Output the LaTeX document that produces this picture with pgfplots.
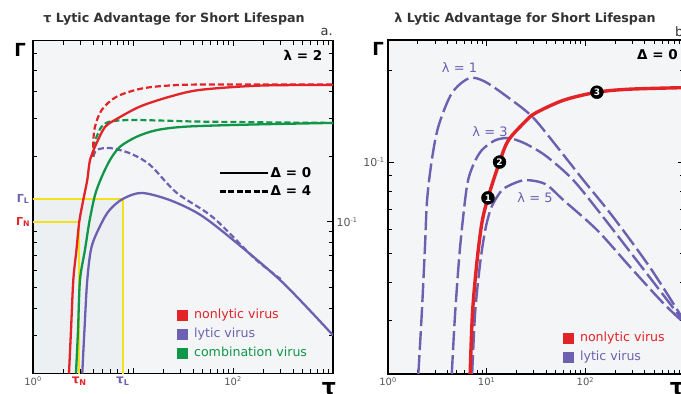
\documentclass[border=0pt]{standalone}
\usepackage{pgfplots}
\pgfplotsset{compat=1.18}
\usepackage{fontspec}
\setmainfont{DejaVu Sans}
\definecolor{nlred}{HTML}{E22328}
\definecolor{lypur}{HTML}{6E60B0}
\definecolor{cgreen}{HTML}{109648}
\definecolor{yel}{HTML}{F2E21E}
\definecolor{bgcol}{HTML}{F4F5F7}
\definecolor{tint}{HTML}{EDF0F3}
\definecolor{tickgray}{HTML}{555555}
\definecolor{titlegray}{HTML}{333333}
\newcommand{\tp}[2]{#1\textsuperscript{\fontsize{6.5}{6.5}\selectfont #2}}

\pgfplotstableread{
x y
2.29 0.02
2.40 0.0318
2.53 0.054
2.72 0.0743
2.90 0.100
3.18 0.126
3.49 0.156
3.72 0.193
4.33 0.231
5.25 0.274
6.6 0.295
11.7 0.34
23.4 0.378
46.8 0.406
186 0.425
1000 0.428
}\aredsolid
\pgfplotstableread{
x y
4.0 0.20
4.02 0.239
4.17 0.275
4.86 0.328
6.87 0.378
12.6 0.413
29.5 0.428
100 0.43
1000 0.43
}\areddash
\pgfplotstableread{
x y
2.69 0.02
2.82 0.0318
2.95 0.054
3.31 0.0743
3.66 0.100
4.17 0.133
4.86 0.161
5.89 0.193
7.41 0.222
10.9 0.247
17.3 0.265
34.4 0.275
148 0.281
1000 0.286
}\agreensolid
\pgfplotstableread{
x y
4.0 0.20
4.07 0.226
4.33 0.247
4.86 0.275
5.89 0.290
9.33 0.295
20 0.293
46.8 0.290
372 0.287
1000 0.286
}\agreendash
\pgfplotstableread{
x y
3.11 0.02
3.27 0.0318
3.49 0.054
3.86 0.077
4.86 0.099
5.89 0.114
7.9 0.1276
12.2 0.136
23.4 0.126
46.8 0.108
100 0.0826
316 0.0524
1000 0.0300
}\apursolid
\pgfplotstableread{
x y
4.0 0.20
4.37 0.215
5.89 0.219
9.33 0.207
14.8 0.183
27.4 0.136
63 0.105
158 0.069
234 0.0594
300 0.0545
}\apurdash

\pgfplotstableread{
x y
6.8 0.02
7.18 0.0317
7.94 0.0463
8.93 0.0628
10.3 0.0762
13.5 0.100
16.6 0.118
24.6 0.136
31.1 0.145
60.3 0.160
131 0.170
286 0.174
1000 0.176
}\bred
\pgfplotstableread{
x y
2.03 0.02
2.2 0.0317
2.37 0.0525
2.49 0.075
2.78 0.1015
3.24 0.131
4.43 0.1686
6.64 0.189
9.66 0.184
18.0 0.160
29.7 0.140
53.2 0.111
95.5 0.0872
192 0.0658
457 0.0447
1000 0.0300
}\blamone
\pgfplotstableread{
x y
4.43 0.02
4.79 0.0317
5.38 0.0525
6.3 0.0829
7.3 0.0977
8.93 0.1095
12.2 0.118
16.5 0.120
21.9 0.117
28.8 0.112
41.1 0.104
75.5 0.0872
152 0.0658
361 0.0457
1000 0.0297
}\blamthree
\pgfplotstableread{
x y
7.13 0.02
7.64 0.0318
8.59 0.0464
9.66 0.0596
10.9 0.0695
12.2 0.075
14.3 0.0808
17.3 0.084
24.6 0.0872
39.3 0.0846
59.8 0.075
132 0.0596
286 0.045
619 0.0342
1000 0.0295
}\blamfive
\pgfplotstableread{
x y lab
10.3 0.0762 1
13.5 0.100 2
131 0.170 3
}\bmarks

\begin{document}
\begin{tikzpicture}
\useasboundingbox (0pt,0pt) rectangle (681pt,394pt);

% ---------------- left panel: background layer ----------------
\begin{axis}[scale only axis, xmode=log, ymode=log, xmin=1, xmax=1000,
  at={(33pt,20.5pt)}, anchor=south west, width=300pt, height=333pt,
  ymin=0.02, ymax=0.686, hide axis]
\addplot[fill=bgcol, draw=none] coordinates {(1,0.02) (1,0.686) (1000,0.686) (1000,0.02) (1,0.02)};
\addplot[fill=tint, draw=none] coordinates {(1,0.02) (1,0.1276) (7.9,0.1276) (7.9,0.02) (1,0.02)};
\end{axis}

% ---------------- left panel ----------------
\begin{axis}[scale only axis, xmode=log, ymode=log, xmin=1, xmax=1000,
  at={(33pt,20.5pt)}, anchor=south west, width=300pt, height=333pt,
  ymin=0.02, ymax=0.686,
  axis line style={line width=1.5pt},
  tick align=inside,
  major tick length=6pt, minor tick length=4.5pt,
  tick style={black, line width=1pt},
  tick label style={font=\fontsize{10}{11}\selectfont, text=tickgray},
  xtick={1,10,100,1000}, xticklabels={\tp{10}{0},,\tp{10}{2},},
  minor xtick={2,3,4,5,6,7,8,9,20,30,40,50,60,70,80,90,200,300,400,500,600,700,800,900},
  ytick={0.1}, yticklabels={\tp{10}{-1}}, yticklabel pos=right,
  yticklabel style={font=\fontsize{11}{11}\selectfont},
  minor ytick={0.02,0.03,0.04,0.05,0.06,0.07,0.08,0.09,0.2,0.3,0.4,0.5,0.6},
  extra x ticks={2.9,7.9},
  extra x tick labels={{\textcolor{nlred}{\bfseries τ\textsubscript{N}}},{\textcolor{lypur}{\bfseries τ\textsubscript{L}}}},
  extra x tick style={major tick length=0pt, tick label style={font=\fontsize{12}{12}\selectfont}},
  legend cell align=left,
  legend image code/.code={\fill[#1] (0pt,-5pt) rectangle (10pt,5pt); \path (14.5pt,0pt);},
  legend style={at={(rel axis cs:0.48,0.1997)}, anchor=north west, draw=none, fill=none,
    font=\fontsize{12.6}{13}\selectfont, row sep=4pt, inner sep=0pt},
]
\addlegendimage{nlred}\addlegendentry{\textcolor{nlred}{nonlytic virus}}
\addlegendimage{lypur}\addlegendentry{\textcolor{lypur}{lytic virus}}
\addlegendimage{cgreen}\addlegendentry{\textcolor{cgreen}{combination virus}}
\addplot[yel, line width=1.8pt, forget plot] coordinates {(1,0.1276) (7.9,0.1276) (7.9,0.02)};
\addplot[yel, line width=1.8pt, forget plot] coordinates {(1,0.1) (2.9,0.1) (2.9,0.02)};
\addplot[lypur, line width=2.2pt, dash pattern=on 6pt off 3pt, smooth, tension=0.5, forget plot] table {\apurdash};
\addplot[cgreen, line width=2.2pt, dash pattern=on 6pt off 3pt, smooth, tension=0.5, forget plot] table {\agreendash};
\addplot[nlred, line width=2.2pt, dash pattern=on 6pt off 3pt, smooth, tension=0.5, forget plot] table {\areddash};
\addplot[lypur, line width=2.3pt, smooth, tension=0.5, forget plot] table {\apursolid};
\addplot[cgreen, line width=2.3pt, smooth, tension=0.5, forget plot] table {\agreensolid};
\addplot[nlred, line width=2.3pt, smooth, tension=0.5, forget plot] table {\aredsolid};
\end{axis}

% Delta legend (overlay)
\begin{axis}[scale only axis, at={(33pt,20.5pt)}, anchor=south west, width=300pt, height=333pt,
  hide axis, xmin=0, xmax=1, ymin=0, ymax=1, legend cell align=left,
  legend image code/.code={\draw[#1] (0pt,0pt) -- (48pt,0pt);},
  legend style={at={(rel axis cs:0.617,0.626)}, anchor=north west, draw=none, fill=none,
    font=\bfseries\fontsize{13.5}{14}\selectfont, row sep=3pt, inner sep=0pt},
]
\addlegendimage{black, line width=2.4pt}
\addlegendentry{Δ = 0}
\addlegendimage{black, line width=2.4pt, dash pattern=on 6pt off 2.5pt}
\addlegendentry{Δ = 4}
\end{axis}

% ---------------- right panel: background layer ----------------
\begin{axis}[scale only axis, xmode=log, ymode=log, xmin=1, xmax=1000,
  at={(388pt,20pt)}, anchor=south west, width=296pt, height=334pt,
  ymin=0.02, ymax=0.2527, hide axis]
\addplot[fill=bgcol, draw=none] coordinates {(1,0.02) (1,0.2527) (1000,0.2527) (1000,0.02) (1,0.02)};
\end{axis}

% ---------------- right panel ----------------
\begin{axis}[scale only axis, xmode=log, ymode=log, xmin=1, xmax=1000,
  at={(388pt,20pt)}, anchor=south west, width=296pt, height=334pt,
  ymin=0.02, ymax=0.2527,
  axis line style={line width=1.5pt},
  tick align=inside,
  major tick length=6pt, minor tick length=4.5pt,
  tick style={black, line width=1pt},
  tick label style={font=\fontsize{10}{11}\selectfont, text=tickgray},
  xtick={1,10,100,1000}, xticklabels={\tp{10}{0},\tp{10}{1},\tp{10}{2},},
  minor xtick={2,3,4,5,6,7,8,9,20,30,40,50,60,70,80,90,200,300,400,500,600,700,800,900},
  ytick={0.1}, yticklabels={\tp{10}{-1}},
  yticklabel style={font=\fontsize{11}{11}\selectfont},
  minor ytick={0.02,0.03,0.04,0.05,0.06,0.07,0.08,0.09,0.2},
  legend cell align=left,
  legend image code/.code={\fill[#1] (0pt,-5pt) rectangle (10pt,5pt); \path (14.5pt,0pt);},
  legend style={at={(rel axis cs:0.591,0.1317)}, anchor=north west, draw=none, fill=none,
    font=\fontsize{12.6}{13}\selectfont, row sep=4pt, inner sep=0pt},
]
\addlegendimage{nlred}\addlegendentry{\textcolor{nlred}{nonlytic virus}}
\addlegendimage{lypur}\addlegendentry{\textcolor{lypur}{lytic virus}}
\addplot[lypur, line width=2.4pt, dash pattern=on 19pt off 5pt, smooth, tension=0.5, forget plot] table {\blamone};
\addplot[lypur, line width=2.4pt, dash pattern=on 19pt off 5pt, smooth, tension=0.5, forget plot] table {\blamthree};
\addplot[lypur, line width=2.4pt, dash pattern=on 19pt off 5pt, smooth, tension=0.5, forget plot] table {\blamfive};
\addplot[nlred, line width=3.4pt, smooth, tension=0.5, forget plot] table {\bred};
\addplot[only marks, mark=*, mark size=6.5pt, mark options={fill=black, draw=black},
  point meta=explicit symbolic, nodes near coords,
  nodes near coords style={anchor=center, text=white, font=\bfseries\fontsize{9}{9}\selectfont, inner sep=0pt},
  forget plot] table[meta=lab] {\bmarks};
\end{axis}

% ---------------- texts ----------------
\node[font=\bfseries\fontsize{12.7}{13}\selectfont, text=titlegray] at (174pt,375pt) {τ Lytic Advantage for Short Lifespan};
\node[font=\bfseries\fontsize{12.7}{13}\selectfont, text=titlegray] at (525pt,375pt) {λ Lytic Advantage for Short Lifespan};
\node[anchor=east, font=\fontsize{13}{13}\selectfont, text=titlegray, inner sep=0pt] at (333pt,362pt) {a.};
\node[anchor=west, font=\fontsize{13}{13}\selectfont, text=titlegray, inner sep=0pt] at (675pt,362pt) {b.};
\node[font=\bfseries\fontsize{13.5}{14}\selectfont] at (303pt,339pt) {λ = 2};
\node[anchor=west, font=\bfseries\fontsize{13.5}{14}\selectfont, inner sep=0pt] at (637pt,339pt) {Δ = 0};
\node[font=\bfseries\fontsize{18}{18}\selectfont] at (20pt,344pt) {Γ};
\node[font=\bfseries\fontsize{18}{18}\selectfont] at (378pt,345pt) {Γ};
\node[font=\bfseries\fontsize{11}{11}\selectfont, text=lypur] at (23pt,195pt) {Γ\textsubscript{L}};
\node[font=\bfseries\fontsize{11}{11}\selectfont, text=nlred] at (23pt,172pt) {Γ\textsubscript{N}};
\node[anchor=base, font=\bfseries\fontsize{22}{22}\selectfont, inner sep=0pt] at (329pt,-1pt) {τ};
\node[anchor=base, font=\bfseries\fontsize{22}{22}\selectfont, inner sep=0pt] at (677pt,-1pt) {τ};
\node[font=\fontsize{13}{13}\selectfont, text=lypur] at (459.5pt,326pt) {λ = 1};
\node[font=\fontsize{13}{13}\selectfont, text=lypur] at (490pt,262pt) {λ = 3};
\node[font=\fontsize{13}{13}\selectfont, text=lypur] at (535pt,196pt) {λ = 5};
\end{tikzpicture}
\end{document}
